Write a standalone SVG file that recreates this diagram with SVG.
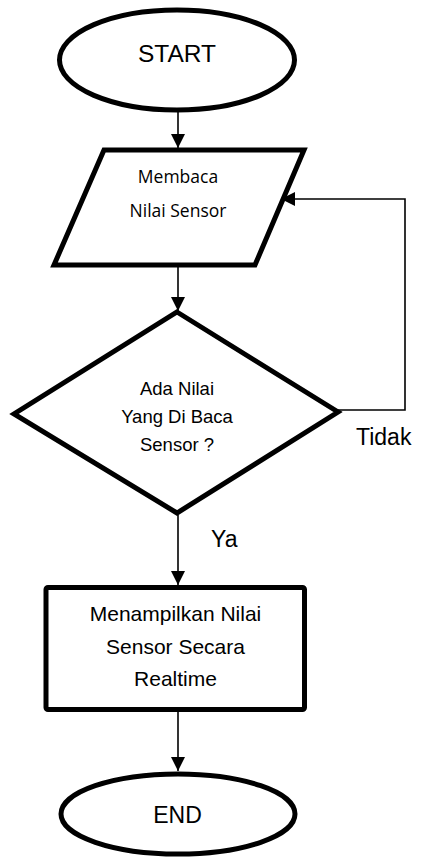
<svg xmlns="http://www.w3.org/2000/svg" width="421" height="859" viewBox="0 0 421 859">
  <style>
    .shape { fill: #ffffff; stroke: #000000; stroke-width: 5; stroke-linejoin: miter; }
    .conn { fill: none; stroke: #000000; stroke-width: 1.6; }
    .arial { font-family: "Liberation Sans", Arial, sans-serif; fill: #000000; text-anchor: middle; }
    .calibri { font-family: "Open Sans", "Noto Sans", sans-serif; fill: #000000; text-anchor: middle; }
    .label { font-family: "Liberation Sans", Arial, sans-serif; fill: #000000; font-size: 23px; }
  </style>
  <defs>
    <marker id="arrow" markerWidth="14" markerHeight="14" refX="14" refY="7" orient="auto" markerUnits="userSpaceOnUse">
      <path d="M0,0 L14,7 L0,14 Z" fill="#000000"/>
    </marker>
  </defs>
  <rect width="421" height="859" fill="#ffffff"/>

  <g id="connectors">
    <line class="conn" x1="178" y1="110" x2="178" y2="148" marker-end="url(#arrow)"/>
    <line class="conn" x1="178" y1="267" x2="178" y2="311" marker-end="url(#arrow)"/>
    <polyline class="conn" points="338,410 405,410 405,199 281,199" marker-end="url(#arrow)"/>
    <line class="conn" x1="178" y1="515" x2="178" y2="585" marker-end="url(#arrow)"/>
    <line class="conn" x1="178" y1="712" x2="178" y2="771" marker-end="url(#arrow)"/>
  </g>

  <g id="start">
    <ellipse class="shape" cx="177" cy="60" rx="117.5" ry="50"/>
    <text class="arial" x="177" y="62" font-size="24.5">START</text>
  </g>

  <g id="read">
    <polygon class="shape" points="104,150 304,150 255,265 54,265"/>
    <text class="calibri" x="178" y="183" font-size="17.5">Membaca</text>
    <text class="calibri" x="178" y="216.5" font-size="17.5">Nilai Sensor</text>
  </g>

  <g id="decision">
    <polygon class="shape" points="177,312 338,412 177,513 14,414"/>
    <text class="arial" x="177" y="395" font-size="18.5">Ada Nilai</text>
    <text class="arial" x="177" y="423" font-size="18.5">Yang Di Baca</text>
    <text class="arial" x="177" y="451" font-size="18.5">Sensor ?</text>
  </g>

  <g id="display">
    <rect class="shape" x="46" y="587.5" width="258.5" height="122" rx="2"/>
    <text class="arial" x="175.5" y="621" font-size="21">Menampilkan Nilai</text>
    <text class="arial" x="175.5" y="653.5" font-size="21">Sensor Secara</text>
    <text class="arial" x="175.5" y="686" font-size="21">Realtime</text>
  </g>

  <g id="end">
    <ellipse class="shape" cx="178" cy="814" rx="117" ry="40"/>
    <text class="arial" x="177.5" y="823" font-size="23">END</text>
  </g>

  <g id="labels">
    <text class="label" x="356" y="445">Tidak</text>
    <text class="label" x="211" y="547">Ya</text>
  </g>
</svg>
